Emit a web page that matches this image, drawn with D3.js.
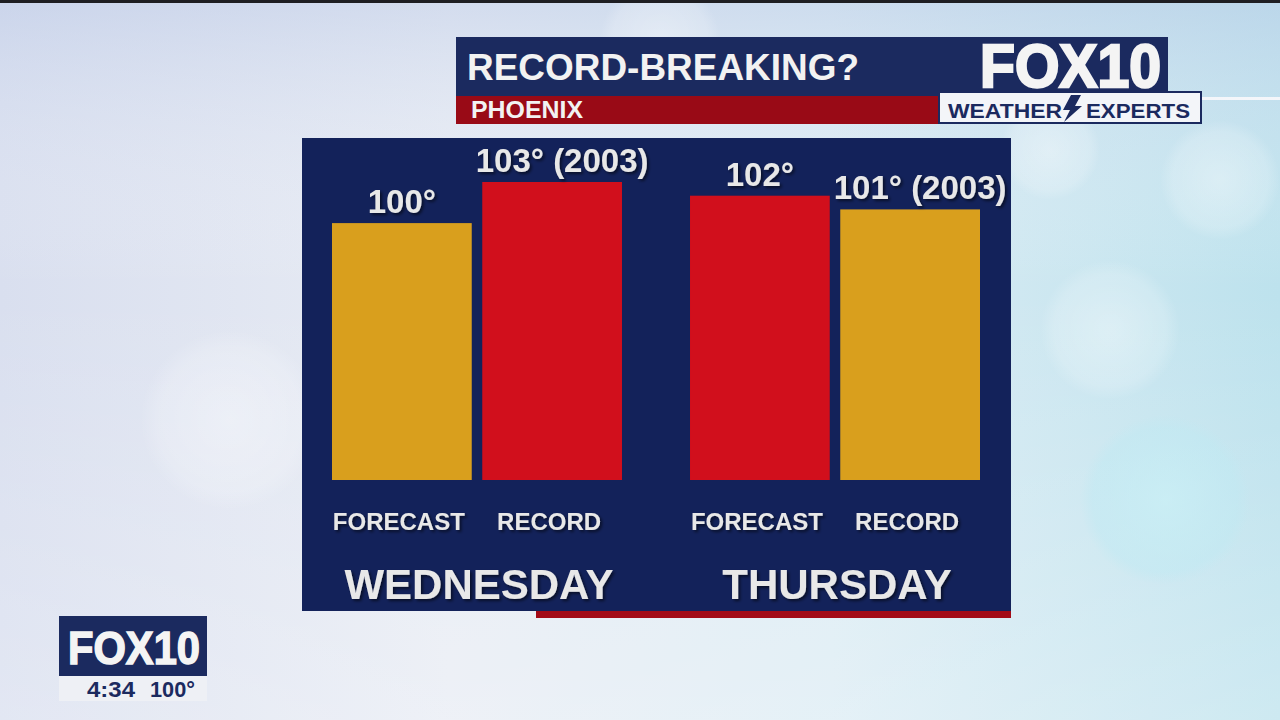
<!DOCTYPE html>
<html>
<head>
<meta charset="utf-8">
<script src="https://cdn.jsdelivr.net/npm/d3@7"></script>
<style>
  html, body { margin: 0; padding: 0; background: #e4e9f2; }
  svg { display: block; }
  text { font-family: "Liberation Sans", Arial, Helvetica, sans-serif; font-weight: bold; }
</style>
</head>
<body>
<svg id="chart" width="1280" height="720"></svg>
<script>
// ---- data ----
const days = ["WEDNESDAY", "THURSDAY"];
const series = ["FORECAST", "RECORD"];
const forecastTemps = [100, 102];
const recordTemps = [103, 101];
const recordYears = [2003, 2003];
const title = "RECORD-BREAKING?";
const subtitle = "PHOENIX";
const bugTime = "4:34";
const bugTemp = "100°";

const rows = [];
days.forEach((day, i) => {
  const vals = [forecastTemps[i], recordTemps[i]];
  const hi = d3.max(vals);
  series.forEach((s, j) => {
    rows.push({
      day, series: s, value: vals[j],
      label: vals[j] + "°" + (s === "RECORD" ? " (" + recordYears[i] + ")" : ""),
      higher: vals[j] === hi
    });
  });
});

const svg = d3.select("#chart");
const defs = svg.append("defs");

// background gradients
const bg = defs.append("linearGradient").attr("id", "bg").attr("x1", 0).attr("y1", 0).attr("x2", 1).attr("y2", 0);
[["0%", "#d9dfef"], ["35%", "#e8ecf4"], ["65%", "#dcecf4"], ["100%", "#bde2ed"]]
  .forEach(([o, c]) => bg.append("stop").attr("offset", o).attr("stop-color", c));
const bgv = defs.append("linearGradient").attr("id", "bgv").attr("x1", 0).attr("y1", 0).attr("x2", 0).attr("y2", 1);
[["0%", "#b9c8e6", 0.45], ["40%", "#ffffff", 0.0], ["100%", "#ffffff", 0.25]]
  .forEach(([o, c, a]) => bgv.append("stop").attr("offset", o).attr("stop-color", c).attr("stop-opacity", a));
const bok = defs.append("radialGradient").attr("id", "bok");
[["0%", "#ffffff", 0.35], ["80%", "#ffffff", 0.18], ["100%", "#ffffff", 0]]
  .forEach(([o, c, a]) => bok.append("stop").attr("offset", o).attr("stop-color", c).attr("stop-opacity", a));
const bokc = defs.append("radialGradient").attr("id", "bokc");
[["0%", "#c9f0f6", 0.7], ["85%", "#bfeaf3", 0.45], ["100%", "#bfeaf3", 0]]
  .forEach(([o, c, a]) => bokc.append("stop").attr("offset", o).attr("stop-color", c).attr("stop-opacity", a));

const sh = defs.append("filter").attr("id", "shadow").attr("x", "-10%").attr("y", "-30%").attr("width", "130%").attr("height", "160%");
sh.append("feDropShadow").attr("dx", 2).attr("dy", 2).attr("stdDeviation", 1.5)
  .attr("flood-color", "#000").attr("flood-opacity", 0.55);

svg.append("rect").attr("width", 1280).attr("height", 720).attr("fill", "url(#bg)");
svg.append("rect").attr("width", 1280).attr("height", 720).attr("fill", "url(#bgv)");
// bokeh decorations
[[1165, 500, 85, "bokc"], [1110, 330, 70, "bok"], [1220, 180, 60, "bok"], [660, 40, 60, "bok"],
 [1050, 150, 50, "bok"], [230, 420, 90, "bok"]]
  .forEach(([cx, cy, r, g]) => svg.append("circle").attr("cx", cx).attr("cy", cy).attr("r", r).attr("fill", `url(#${g})`));
svg.append("rect").attr("width", 1280).attr("height", 3).attr("fill", "#1e1e22");

// ---- title bar ----
const NAVY = "#1b2a5f";
svg.append("rect").attr("x", 456).attr("y", 37).attr("width", 712).attr("height", 59).attr("fill", NAVY);
svg.append("rect").attr("x", 456).attr("y", 96).attr("width", 484).attr("height", 28).attr("fill", "#990a16");
svg.append("text").attr("x", 467).attr("y", 80).attr("font-size", 37).attr("fill", "#f2f2f2")
  .attr("textLength", 392).attr("lengthAdjust", "spacingAndGlyphs").text(title);
svg.append("text").attr("x", 471).attr("y", 118).attr("font-size", 24).attr("fill", "#f2f2f2")
  .attr("textLength", 112).attr("lengthAdjust", "spacingAndGlyphs").text(subtitle);

// FOX10 logo
svg.append("text").attr("x", 980).attr("y", 87).attr("font-size", 61).attr("fill", "#f4f4f4")
  .attr("stroke", "#f4f4f4").attr("stroke-width", 2.5)
  .attr("textLength", 181).attr("lengthAdjust", "spacingAndGlyphs").text("FOX10");
svg.append("rect").attr("x", 1201).attr("y", 97).attr("width", 79).attr("height", 3).attr("fill", "#f4f6fa");
svg.append("rect").attr("x", 939).attr("y", 92).attr("width", 262).attr("height", 31)
  .attr("fill", "#f3f5f9").attr("stroke", NAVY).attr("stroke-width", 2);
svg.append("text").attr("x", 948).attr("y", 118).attr("font-size", 21).attr("fill", NAVY)
  .attr("textLength", 114).attr("lengthAdjust", "spacingAndGlyphs").text("WEATHER");
svg.append("polygon").attr("points", "1071,95 1081,95 1075,106 1082,106 1064,122 1070,110 1063,110")
  .attr("fill", NAVY);
svg.append("text").attr("x", 1086).attr("y", 118).attr("font-size", 21).attr("fill", NAVY)
  .attr("textLength", 104).attr("lengthAdjust", "spacingAndGlyphs").text("EXPERTS");

// ---- chart panel ----
svg.append("rect").attr("x", 302).attr("y", 138).attr("width", 709).attr("height", 473).attr("fill", "#13225a");
svg.append("rect").attr("x", 536).attr("y", 611).attr("width", 475).attr("height", 7).attr("fill", "#a30b17");

const x0 = d3.scaleBand().domain(days).range([332, 980]).paddingInner(0.19);
const x1 = d3.scaleBand().domain(series).range([0, x0.bandwidth()]).paddingInner(0.07);
const y = d3.scaleLinear().domain([81.25, 103]).range([480, 182]);
const color = d => d.higher ? "#d10f1c" : "#d99f1d";

const g = svg.append("g");
const bx = d => x0(d.day) + x1(d.series);

g.selectAll("rect.bar").data(rows).join("rect").attr("class", "bar")
  .attr("x", bx).attr("width", x1.bandwidth())
  .attr("y", d => y(d.value)).attr("height", d => y.range()[0] - y(d.value))
  .attr("fill", color);

g.selectAll("text.val").data(rows).join("text").attr("class", "val")
  .attr("x", d => bx(d) + x1.bandwidth() / 2 + (d.series === "RECORD" ? 10 : 0))
  .attr("y", d => y(d.value) - 10)
  .attr("text-anchor", "middle").attr("font-size", 33).attr("fill", "#e8e8e8")
  .attr("filter", "url(#shadow)").text(d => d.label);

g.selectAll("text.cat").data(rows).join("text").attr("class", "cat")
  .attr("x", d => bx(d) + x1.bandwidth() / 2 - 3)
  .attr("y", 530).attr("text-anchor", "middle").attr("font-size", 24).attr("fill", "#e8e8e8")
  .attr("filter", "url(#shadow)").text(d => d.series);

g.selectAll("text.day").data(days).join("text").attr("class", "day")
  .attr("x", d => x0(d) + x0.bandwidth() / 2 + 2)
  .attr("y", 599).attr("text-anchor", "middle").attr("font-size", 42).attr("fill", "#e8e8e8")
  .attr("filter", "url(#shadow)").text(d => d);

// ---- bottom-left bug ----
svg.append("rect").attr("x", 59).attr("y", 616).attr("width", 148).attr("height", 60).attr("fill", NAVY);
svg.append("rect").attr("x", 59).attr("y", 676).attr("width", 148).attr("height", 25).attr("fill", "#eef0f5");
svg.append("text").attr("x", 68).attr("y", 664).attr("font-size", 46).attr("fill", "#f4f4f4")
  .attr("stroke", "#f4f4f4").attr("stroke-width", 1.5)
  .attr("textLength", 132).attr("lengthAdjust", "spacingAndGlyphs").text("FOX10");
svg.append("text").attr("x", 87).attr("y", 697).attr("font-size", 22).attr("fill", NAVY)
  .attr("textLength", 48).attr("lengthAdjust", "spacingAndGlyphs").text(bugTime);
svg.append("text").attr("x", 150).attr("y", 697).attr("font-size", 22).attr("fill", NAVY)
  .attr("textLength", 45).attr("lengthAdjust", "spacingAndGlyphs").text(bugTemp);
</script>
</body>
</html>
